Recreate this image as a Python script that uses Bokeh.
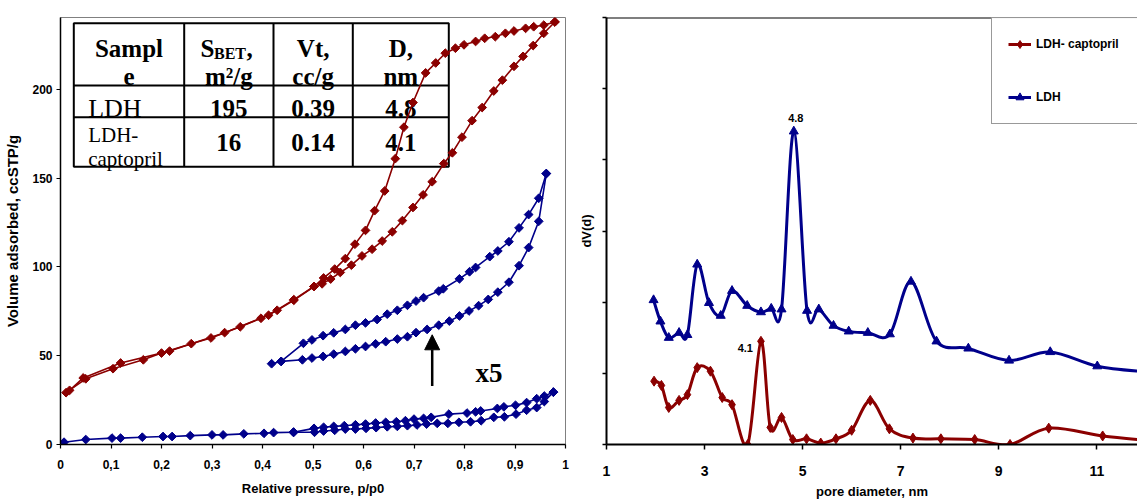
import math
from bokeh.plotting import figure
from bokeh.layouts import row
from bokeh.models import (FixedTicker, Range1d, Arrow, NormalHead, Legend, LegendItem,
                          Span, CustomJSTickFormatter)
from bokeh.core.properties import value
from bokeh.embed import file_html
from bokeh.resources import INLINE

# ---------------- data: left panel (N2 isotherms) ----------------
red_ads_p = [0.011, 0.050, 0.104, 0.164, 0.200, 0.259, 0.298, 0.356, 0.397, 0.429, 0.462, 0.502,
             0.518, 0.535, 0.554, 0.576, 0.597, 0.617, 0.637, 0.657, 0.677, 0.698, 0.718, 0.736,
             0.759, 0.776, 0.795, 0.815, 0.835, 0.858, 0.875, 0.898, 0.916, 0.936, 0.957, 0.979]
red_ads_v = [29.2, 37.0, 42.7, 47.7, 51.5, 56.8, 60.0, 66.3, 71.1, 75.6, 81.2, 89.0,
             90.5, 93.2, 96.9, 101.0, 106.2, 110.0, 114.6, 119.8, 126.1, 133.5, 140.6, 148.0,
             158.2, 164.3, 173.1, 182.4, 189.8, 199.1, 205.2, 213.0, 218.6, 224.7, 231.6, 238.0]
red_des_p = [0.979, 0.957, 0.937, 0.921, 0.898, 0.881, 0.861, 0.840, 0.822, 0.799, 0.782, 0.762,
             0.743, 0.723, 0.698, 0.680, 0.663, 0.642, 0.622, 0.604, 0.583, 0.564, 0.543, 0.521,
             0.502, 0.462, 0.412, 0.325, 0.216, 0.119, 0.045, 0.018]
red_des_v = [238.0, 236.2, 235.3, 234.4, 232.9, 231.6, 229.7, 228.8, 227.0, 225.1, 223.2, 220.4,
             214.9, 209.3, 192.6, 178.7, 161.0, 142.8, 131.7, 120.6, 112.8, 104.7, 98.8, 93.8,
             89.0, 81.6, 72.8, 63.0, 52.6, 45.9, 37.5, 30.5]

b5_ads_p = [0.437, 0.479, 0.498, 0.520, 0.541, 0.564, 0.584, 0.604, 0.624, 0.644, 0.667, 0.687,
            0.704, 0.726, 0.749, 0.770, 0.790, 0.809, 0.828, 0.847, 0.866, 0.888, 0.908, 0.927,
            0.947, 0.962]
b5_ads_v = [46.8, 47.7, 48.7, 49.6, 50.9, 52.4, 53.9, 55.2, 56.7, 57.9, 59.4, 60.7,
            63.0, 64.8, 67.2, 69.5, 72.4, 75.2, 78.2, 81.7, 85.8, 91.4, 100.7, 110.9,
            125.7, 152.6]
b5_des_p = [0.962, 0.947, 0.927, 0.908, 0.888, 0.866, 0.850, 0.822, 0.810, 0.790, 0.758, 0.749,
            0.719, 0.704, 0.687, 0.667, 0.647, 0.627, 0.604, 0.584, 0.564, 0.541, 0.520, 0.498,
            0.481, 0.437, 0.418]
b5_des_v = [152.6, 138.7, 129.5, 122.0, 114.2, 109.0, 105.8, 99.7, 97.3, 93.3, 87.7, 86.4,
            82.7, 80.8, 78.4, 75.6, 73.4, 70.4, 68.5, 67.2, 64.8, 62.9, 61.3, 58.9,
            57.0, 46.8, 45.5]

b_ads_p = [0.007, 0.050, 0.102, 0.119, 0.162, 0.203, 0.221, 0.257, 0.300, 0.322, 0.363, 0.403,
           0.422, 0.462, 0.503, 0.521, 0.543, 0.564, 0.584, 0.605, 0.625, 0.647, 0.667, 0.687,
           0.706, 0.725, 0.746, 0.767, 0.789, 0.812, 0.833, 0.858, 0.879, 0.902, 0.923, 0.943,
           0.958, 0.976]
b_ads_v = [1.3, 2.8, 3.6, 3.6, 4.1, 4.5, 4.5, 5.0, 5.4, 5.4, 6.0, 6.3,
           6.7, 6.9, 6.9, 7.6, 8.0, 8.7, 8.7, 9.1, 9.5, 10.0, 10.2, 10.6,
           11.0, 11.5, 11.9, 11.9, 12.5, 12.8, 13.4, 15.3, 15.6, 17.1, 19.3, 20.8,
           24.2, 29.5]
b_des_p = [0.976, 0.958, 0.943, 0.923, 0.901, 0.878, 0.865, 0.832, 0.822, 0.805, 0.769, 0.734,
           0.719, 0.700, 0.683, 0.665, 0.644, 0.624, 0.604, 0.584, 0.562, 0.541, 0.521, 0.502,
           0.461]
b_des_v = [29.5, 27.3, 25.8, 23.6, 22.1, 21.2, 20.3, 18.9, 18.4, 17.7, 17.1, 15.3,
           14.7, 14.3, 13.4, 12.8, 12.5, 12.1, 11.5, 11.1, 10.6, 10.2, 9.7, 9.1,
           6.9]

left_xticks = [0, 0.1, 0.2, 0.3, 0.4, 0.5, 0.6, 0.7, 0.8, 0.9, 1]
left_yticks = [0, 50, 100, 150, 200]

# table contents
table_header = [["Sampl", "e"], ["S", "m\u00b2/g"], ["Vt,", "cc/g"], ["D,", "nm"]]
table_subscript = "BET"
table_samples = [["LDH"], ["LDH-", "captopril"]]
table_sbet = ["195", "16"]
table_vt = ["0.39", "0.14"]
table_d = ["4.8", "4.1"]

# ---------------- data: right panel (pore size distribution) ----------------
d_ldh = [1.96, 2.10, 2.27, 2.48, 2.65, 2.85, 3.09, 3.33, 3.56, 3.87, 4.15, 4.36, 4.57, 4.82,
         5.09, 5.33, 5.63, 5.94, 6.33, 6.78, 7.21, 7.73, 8.38, 9.21, 10.05, 11.01, 12.0]
v_ldh = [2.03, 1.73, 1.50, 1.57, 1.54, 2.53, 1.99, 1.81, 2.16, 1.95, 1.86, 1.91, 1.90, 4.40,
         1.88, 1.90, 1.67, 1.59, 1.57, 1.55, 2.29, 1.45, 1.35, 1.18, 1.30, 1.10, 1.02]
d_cap = [1.97, 2.12, 2.27, 2.48, 2.65, 2.85, 3.12, 3.36, 3.56, 3.88, 4.15, 4.34, 4.57, 4.80,
         5.08, 5.37, 5.68, 6.00, 6.38, 6.77, 7.25, 7.82, 8.51, 9.23, 10.02, 11.12, 12.0]
v_cap = [0.89, 0.83, 0.52, 0.62, 0.70, 1.08, 1.03, 0.66, 0.56, 0.00, 1.45, 0.24, 0.38, 0.07,
         0.08, 0.02, 0.08, 0.20, 0.62, 0.22, 0.09, 0.08, 0.07, 0.00, 0.23, 0.12, 0.06]
peak_ldh = (4.82, 4.40, "4.8")
peak_cap = (4.15, 1.45, "4.1")
right_xticks = [1, 3, 5, 7, 9, 11]
right_yticks = [0, 1, 2, 3, 4, 5, 6]
legend_labels = ["LDH- captopril", "LDH"]

RED = "#8B0000"
BLUE = "#00008B"
SANS = "Liberation Sans"
SERIF = "Liberation Serif"

# ======================= LEFT FIGURE =======================
L_FW, L_FH = 505.0, 432.0          # frame size in px
L_XMAX, L_YMAX = 1.0, 240.5
p1 = figure(width=570, height=503, x_range=Range1d(0, L_XMAX), y_range=Range1d(0, L_YMAX),
            output_backend="svg", toolbar_location=None,
            min_border_left=60, min_border_right=5, min_border_top=14, min_border_bottom=57)
p1.grid.visible = False
p1.outline_line_color = "#808080"
p1.outline_line_width = 1
p1.background_fill_color = "white"
p1.border_fill_color = "white"

# helpers converting frame-pixel offsets (from frame top-left) into data units
def LX(px):
    return px / L_FW * L_XMAX

def LY(py):
    return (L_FH - py) / L_FH * L_YMAX

p1.xaxis.ticker = FixedTicker(ticks=left_xticks)
p1.xaxis.formatter = CustomJSTickFormatter(
    code="if (tick == 0) return '0'; if (tick == 1) return '1'; return tick.toFixed(1).replace('.', ',');")
p1.yaxis.ticker = FixedTicker(ticks=left_yticks)
p1.xaxis.axis_label = "Relative pressure, p/p0"
p1.yaxis.axis_label = "Volume adsorbed, ccSTP/g"
for ax in (p1.xaxis[0], p1.yaxis[0]):
    ax.axis_line_color = "black"
    ax.axis_line_width = 1.5
    ax.major_tick_line_color = "black"
    ax.major_tick_line_width = 1.2
    ax.major_tick_out = 4
    ax.major_tick_in = 0
    ax.minor_tick_line_color = None
    ax.major_label_text_font = SANS
    ax.major_label_text_font_style = "bold"
    ax.major_label_text_font_size = "12px"
    ax.major_label_text_color = "black"
    ax.axis_label_text_font = SANS
    ax.axis_label_text_font_style = "bold"
    ax.axis_label_text_color = "black"
p1.xaxis.major_label_standoff = 11
p1.xaxis.axis_label_standoff = 9
p1.xaxis.axis_label_text_font_size = "13px"
p1.yaxis.major_label_standoff = 4
p1.yaxis.axis_label_standoff = 8
p1.yaxis.axis_label_text_font_size = "15px"

# ---- table (drawn first so the curves pass over it) ----
t_left, t_right, t_top, t_bot = 13.3, 388.3, 5.7, 151.0
row_lines = [68.7, 101.0]
col_lines = [123.7, 213.0, 292.3]
p1.quad(left=[LX(t_left)], right=[LX(t_right)], top=[LY(t_top)], bottom=[LY(t_bot)],
        fill_color="white", line_color="black", line_width=2)
p1.segment(x0=[LX(t_left)] * 2, x1=[LX(t_right)] * 2,
           y0=[LY(r) for r in row_lines], y1=[LY(r) for r in row_lines],
           line_color="black", line_width=2)
p1.segment(x0=[LX(c) for c in col_lines], x1=[LX(c) for c in col_lines],
           y0=[LY(t_top)] * 3, y1=[LY(t_bot)] * 3, line_color="black", line_width=2)

def put_text(p, xs, ys, texts, size, style, font, align, color="black"):
    p.text(x=xs, y=ys, text=texts, text_font=value(font), text_font_size=value(size),
           text_font_style=style, text_align=align, text_baseline="alphabetic",
           text_color=color)

col_centers = [(t_left + col_lines[0]) / 2, (col_lines[0] + col_lines[1]) / 2,
               (col_lines[1] + col_lines[2]) / 2, (col_lines[2] + t_right) / 2]
base1, base2 = 31.7, 59.3
# header
put_text(p1, [LX(col_centers[0])] * 2, [LY(base1), LY(base2)], table_header[0], "25px", "bold", SERIF, "center")
put_text(p1, [LX(140.0)], [LY(base1)], [table_header[1][0]], "25px", "bold", SERIF, "left")
put_text(p1, [LX(153.5)], [LY(base1 + 4.5)], [table_subscript], "16px", "bold", SERIF, "left")
put_text(p1, [LX(186.0)], [LY(base1)], [","], "25px", "bold", SERIF, "left")
put_text(p1, [LX(col_centers[1])], [LY(base2)], [table_header[1][1]], "25px", "bold", SERIF, "center")
put_text(p1, [LX(col_centers[2])] * 2, [LY(base1), LY(base2)], table_header[2], "25px", "bold", SERIF, "center")
put_text(p1, [LX(col_centers[3])] * 2, [LY(base1), LY(base2)], table_header[3], "25px", "bold", SERIF, "center")
# rows
put_text(p1, [LX(27.7)], [LY(92.0)], table_samples[0], "26px", "normal", SERIF, "left")
put_text(p1, [LX(27.7)] * 2, [LY(119.3), LY(142.7)], table_samples[1], "21px", "normal", SERIF, "left")
row_bases = [92.0, 126.0]
for vals, cc in ((table_sbet, col_centers[1]), (table_vt, col_centers[2]), (table_d, col_centers[3])):
    put_text(p1, [LX(cc)] * 2, [LY(b) for b in row_bases], vals, "25px", "bold", SERIF, "center")

# ---- curves ----
def iso(p, xs, ys, color):
    p.line(xs, ys, line_color=color, line_width=1.6)
    p.scatter(xs, ys, marker="square", angle=math.pi / 4, size=6.2,
              fill_color=color, line_color=color)

iso(p1, red_ads_p, red_ads_v, RED)
iso(p1, red_des_p, red_des_v, RED)
iso(p1, b5_ads_p, b5_ads_v, BLUE)
iso(p1, b5_des_p, b5_des_v, BLUE)
iso(p1, b_ads_p, b_ads_v, BLUE)
iso(p1, b_des_p, b_des_v, BLUE)

# arrow and x5 label
p1.add_layout(Arrow(end=NormalHead(size=15, fill_color="black", line_color="black"),
                    x_start=LX(371.7), y_start=LY(372.7), x_end=LX(371.7), y_end=LY(321.0),
                    line_color="black", line_width=2.5))
put_text(p1, [LX(415.0)], [LY(359.3)], ["x5"], "27px", "bold", SERIF, "left")

# ======================= RIGHT FIGURE =======================
R_FW = 531.0
R_XMAX = 1 + R_FW / 49.03
p2 = figure(width=567, height=503, x_range=Range1d(1, R_XMAX), y_range=Range1d(0, 6),
            output_backend="svg", toolbar_location=None,
            min_border_left=36, min_border_right=0, min_border_top=17, min_border_bottom=59)
p2.grid.visible = False
p2.outline_line_color = None
p2.background_fill_color = "white"
p2.border_fill_color = "white"
p2.xaxis.ticker = FixedTicker(ticks=right_xticks)
p2.yaxis.ticker = FixedTicker(ticks=right_yticks)
p2.yaxis.formatter = CustomJSTickFormatter(code="return '';")
p2.xaxis.axis_label = "pore diameter, nm"
p2.yaxis.axis_label = "dV(d)"
for ax in (p2.xaxis[0], p2.yaxis[0]):
    ax.axis_line_color = "black"
    ax.axis_line_width = 2
    ax.major_tick_line_color = "black"
    ax.major_tick_line_width = 1.5
    ax.major_tick_out = 5
    ax.major_tick_in = 0
    ax.minor_tick_line_color = None
    ax.major_label_text_font = SANS
    ax.major_label_text_font_style = "bold"
    ax.major_label_text_font_size = "14px"
    ax.major_label_text_color = "black"
    ax.axis_label_text_font = SANS
    ax.axis_label_text_font_style = "bold"
    ax.axis_label_text_font_size = "13px"
    ax.axis_label_text_color = "black"
p2.yaxis.major_tick_out = 4
p2.xaxis.major_label_standoff = 16
p2.xaxis.axis_label_standoff = 5
p2.yaxis.major_label_standoff = 0
p2.yaxis.axis_label_standoff = 9
p2.add_layout(Span(location=6, dimension="width", line_color="black", line_width=2))

def smooth(p, xs, ys, color, width):
    n = len(xs)
    x0, y0, x1, y1, cx0, cy0, cx1, cy1 = [], [], [], [], [], [], [], []
    for i in range(n - 1):
        a = i - 1 if i > 0 else i
        d = i + 2 if i + 2 < n else i + 1
        x0.append(xs[i]); y0.append(ys[i]); x1.append(xs[i + 1]); y1.append(ys[i + 1])
        cx0.append(xs[i] + (xs[i + 1] - xs[a]) / 6.0)
        cy0.append(ys[i] + (ys[i + 1] - ys[a]) / 6.0)
        cx1.append(xs[i + 1] - (xs[d] - xs[i]) / 6.0)
        cy1.append(ys[i + 1] - (ys[d] - ys[i]) / 6.0)
    p.bezier(x0=x0, y0=y0, x1=x1, y1=y1, cx0=cx0, cy0=cy0, cx1=cx1, cy1=cy1,
             line_color=color, line_width=width)

smooth(p2, d_cap, v_cap, RED, 3)
smooth(p2, d_ldh, v_ldh, BLUE, 3)
cap_pts = p2.scatter(d_cap, v_cap, marker="diamond", size=10,
                     fill_color=RED, line_color=RED)
ldh_pts = p2.scatter(d_ldh, v_ldh, marker="triangle", size=9, fill_color=BLUE, line_color=BLUE)
# single-point line renderers: draw nothing in the plot, give the legend its line swatch
cap_leg_line = p2.line(d_cap[:1], v_cap[:1], line_color=RED, line_width=3)
ldh_leg_line = p2.line(d_ldh[:1], v_ldh[:1], line_color=BLUE, line_width=3)

p2.text(x=[peak_ldh[0]], y=[peak_ldh[1]], text=[peak_ldh[2]], x_offset=2, y_offset=-13,
        text_font=value(SANS), text_font_style="bold", text_font_size=value("11px"),
        text_align="center", text_baseline="middle", text_color="black")
p2.text(x=[peak_cap[0]], y=[peak_cap[1]], text=[peak_cap[2]], x_offset=-8, y_offset=7,
        text_font=value(SANS), text_font_style="bold", text_font_size=value("11px"),
        text_align="right", text_baseline="middle", text_color="black")

legend = Legend(items=[LegendItem(label=legend_labels[0], renderers=[cap_leg_line, cap_pts]),
                       LegendItem(label=legend_labels[1], renderers=[ldh_leg_line, ldh_pts])],
                location=(385, 320), border_line_color="#333333", border_line_width=1.2,
                padding=16, spacing=33, glyph_width=23, glyph_height=20, label_height=20,
                label_width=130, label_standoff=5, margin=0, background_fill_color="white",
                label_text_font=SANS, label_text_font_style="bold",
                label_text_font_size="12px", label_text_color="black")
p2.add_layout(legend)

layout = row(p1, p2)
open("out.html", "w").write(file_html(layout, INLINE))
